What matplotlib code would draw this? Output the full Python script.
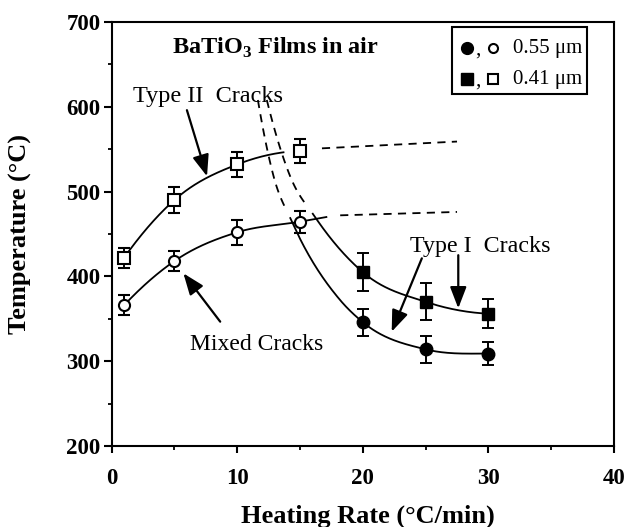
import numpy as np
import matplotlib
matplotlib.use('Agg')
import matplotlib.pyplot as plt

plt.rcParams['font.family'] = ['Liberation Serif', 'DejaVu Serif']
plt.rcParams['mathtext.fontset'] = 'custom'
plt.rcParams['mathtext.rm'] = 'Liberation Serif'
plt.rcParams['mathtext.bf'] = 'Liberation Serif:bold'

# measured points, heating rate (C/min) vs temperature (C)
rate_open = [1, 5, 10, 15]
temp_055_open = [366, 418, 452, 464]
err_055_open = [12, 12, 15, 13]
temp_041_open = [422, 490, 532, 548]
err_041_open = [12, 15, 15, 14]

rate_filled = [20, 25, 30]
temp_055_filled = [346, 314, 309]
err_055_filled = [16, 16, 14]
temp_041_filled = [405, 370, 356]
err_041_filled = [22, 22, 17]

# guide points for the trend curves
mixed_055_x = [1, 5, 10, 15, 17.1]
mixed_055_y = [366, 418, 452, 464.5, 470]
mixed_041_x = [1, 5, 10, 15]
mixed_041_y = [422, 490, 532, 548]
type1_055_x = [11.65, 12.9, 14.36, 18.2, 20, 25, 30]
type1_055_y = [608, 518, 464.5, 372, 346, 314, 309]
type1_041_x = [12.36, 14.22, 16.2, 20, 25, 30]
type1_041_y = [608, 518, 470, 405, 370, 356]

# straight dashed extensions at high rates
ext_055_x = [18.2, 27.5]
ext_055_y = [472, 476]
ext_041_x = [16.75, 27.5]
ext_041_y = [551, 559]


def smooth(xs, ys, n=300):
    xs = np.asarray(xs, float)
    ys = np.asarray(ys, float)
    h = np.diff(xs)
    d = np.diff(ys) / h
    m = np.empty_like(xs)
    m[1:-1] = (d[:-1] * h[1:] + d[1:] * h[:-1]) / (h[:-1] + h[1:])
    m[0] = ((2 * h[0] + h[1]) * d[0] - h[0] * d[1]) / (h[0] + h[1])
    m[-1] = ((2 * h[-1] + h[-2]) * d[-1] - h[-1] * d[-2]) / (h[-1] + h[-2])
    if np.sign(m[0]) != np.sign(d[0]):
        m[0] = 0
    if np.sign(m[-1]) != np.sign(d[-1]):
        m[-1] = 0
    xx = np.linspace(xs[0], xs[-1], n)
    i = np.clip(np.searchsorted(xs, xx) - 1, 0, len(h) - 1)
    t = (xx - xs[i]) / h[i]
    yy = ((2 * t**3 - 3 * t**2 + 1) * ys[i] + (t**3 - 2 * t**2 + t) * h[i] * m[i]
          + (-2 * t**3 + 3 * t**2) * ys[i + 1] + (t**3 - t**2) * h[i] * m[i + 1])
    return xx, yy


def draw_curve(ax, xs, ys, lo, hi, ls='-'):
    xx, yy = smooth(xs, ys)
    sel = (xx >= lo) & (xx <= hi)
    line, = ax.plot(xx[sel], yy[sel], color='black', lw=1.3, ls=ls)
    if ls == '--':
        line.set_dashes((4.5, 3.5))


fig = plt.figure(figsize=(6.28, 5.27), dpi=100)
ax = fig.add_axes([0.1776, 0.1537, 0.8002, 0.8046])

draw_curve(ax, mixed_041_x, mixed_041_y, 1, 13.7)
draw_curve(ax, mixed_055_x, mixed_055_y, 1, 17.1)
draw_curve(ax, type1_055_x, type1_055_y, 14.2, 30)
draw_curve(ax, type1_055_x, type1_055_y, 11.65, 13.85, '--')
draw_curve(ax, type1_041_x, type1_041_y, 16.0, 30)
draw_curve(ax, type1_041_x, type1_041_y, 12.36, 15.66, '--')
for ex, ey in ((ext_055_x, ext_055_y), (ext_041_x, ext_041_y)):
    ax.plot(ex, ey, color='black', lw=1.3, dashes=(4.5, 3.5))

eb = dict(color='black', elinewidth=1.4, capsize=4, capthick=1.4, ls='none')
ax.errorbar(rate_open, temp_055_open, yerr=err_055_open, marker='o', ms=8,
            mfc='white', mec='black', mew=1.5, **eb)
ax.errorbar(rate_open, temp_041_open, yerr=err_041_open, marker='s', ms=8,
            mfc='white', mec='black', mew=1.5, **eb)
ax.errorbar(rate_filled, temp_055_filled, yerr=err_055_filled, marker='o', ms=9,
            mfc='black', mec='black', **eb)
ax.errorbar(rate_filled, temp_041_filled, yerr=err_041_filled, marker='s', ms=8.5,
            mfc='black', mec='black', **eb)

ax.set_xlim(0, 40)
ax.set_ylim(200, 700)
ax.set_xticks([0, 10, 20, 30, 40])
ax.set_xticks([5, 15, 25, 35], minor=True)
ax.set_yticks([200, 300, 400, 500, 600, 700])
ax.set_yticks([250, 350, 450, 550, 650], minor=True)
ax.tick_params(axis='both', which='major', direction='out', width=1.5,
               labelsize=16.5)
ax.tick_params(axis='x', which='major', length=5, pad=11)
ax.tick_params(axis='y', which='major', length=6, pad=2)
ax.tick_params(axis='both', which='minor', direction='out', length=3, width=1.3)
for lab in ax.get_xticklabels() + ax.get_yticklabels():
    lab.set_fontweight('bold')
for sp in ax.spines.values():
    sp.set_linewidth(1.5)

ax.set_xlabel('Heating Rate (°C/min)', fontsize=19, fontweight='bold')
ax.set_ylabel('Temperature (°C)', fontsize=19, fontweight='bold')
ax.xaxis.set_label_coords(0.511, -0.137)
ax.yaxis.set_label_coords(-0.158, 0.5)

ax.text(4.84, 663, r'BaTiO$_\mathbf{3}$ Films in air', fontsize=17.5,
        fontweight='bold', va='baseline')
ax.text(1.71, 605.7, 'Type II  Cracks', fontsize=17.5, va='baseline')
ax.text(6.25, 313.2, 'Mixed Cracks', fontsize=17, va='baseline')
ax.text(23.77, 429, 'Type I  Cracks', fontsize=17.3, va='baseline')

arrow = dict(arrowstyle='-|>,head_length=1.3,head_width=0.5', mutation_scale=10,
             color='black', lw=1.6, shrinkA=0, shrinkB=0)
ax.annotate('', xy=(7.6, 518), xytext=(6.0, 596), arrowprops=arrow)
ax.annotate('', xy=(5.72, 403.6), xytext=(8.65, 346.6), arrowprops=arrow)
ax.annotate('', xy=(27.6, 362.4), xytext=(27.6, 425), arrowprops=arrow)
ax.annotate('', xy=(22.3, 334.8), xytext=(24.7, 421.3), arrowprops=arrow)

# key box in the upper right corner
box = plt.Rectangle((0.678, 0.830), 0.268, 0.1575, transform=ax.transAxes,
                    fill=False, lw=1.5, color='black')
ax.add_patch(box)
for yk, mk, label in ((0.938, 'o', '0.55 μm'), (0.865, 's', '0.41 μm')):
    ax.plot([0.708], [yk], marker=mk, ms=8.5, color='black',
            transform=ax.transAxes, clip_on=False)
    ax.text(0.729, yk - 0.004, ',', fontsize=15, transform=ax.transAxes,
            ha='center', va='center')
    ax.plot([0.760], [yk], marker=mk, ms=6.5, mfc='white', mec='black', mew=1.5,
            transform=ax.transAxes, clip_on=False)
    ax.text(0.798, yk, label, fontsize=15, transform=ax.transAxes, va='center')

fig.savefig('out.png', dpi=100)
